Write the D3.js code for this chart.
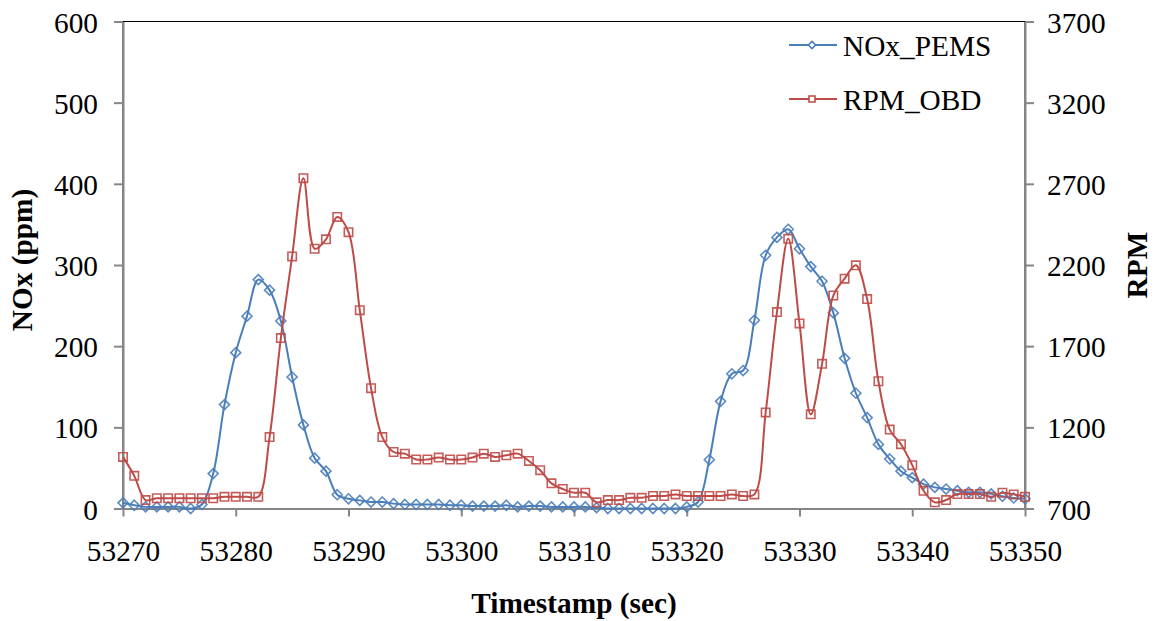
<!DOCTYPE html>
<html>
<head>
<meta charset="utf-8">
<script src="https://cdn.jsdelivr.net/npm/d3@7"></script>
<style>
  html, body { margin: 0; padding: 0; background: #ffffff; }
  svg { display: block; }
  svg text { font-family: "Liberation Serif", "Times New Roman", serif; }
</style>
</head>
<body>
<svg id="chart" width="1156" height="621"></svg>
<script>
// Timestamps (sec), one sample per second
const timestamps = [
  53270, 53271, 53272, 53273, 53274, 53275, 53276, 53277, 53278, 53279,
  53280, 53281, 53282, 53283, 53284, 53285, 53286, 53287, 53288, 53289,
  53290, 53291, 53292, 53293, 53294, 53295, 53296, 53297, 53298, 53299,
  53300, 53301, 53302, 53303, 53304, 53305, 53306, 53307, 53308, 53309,
  53310, 53311, 53312, 53313, 53314, 53315, 53316, 53317, 53318, 53319,
  53320, 53321, 53322, 53323, 53324, 53325, 53326, 53327, 53328, 53329,
  53330, 53331, 53332, 53333, 53334, 53335, 53336, 53337, 53338, 53339,
  53340, 53341, 53342, 53343, 53344, 53345, 53346, 53347, 53348, 53349,
  53350
];

// NOx concentration measured by PEMS (ppm)
const noxPems = [
  7, 4, 2, 2, 2, 2, 0, 5, 43, 128,
  192, 237, 282, 269, 231, 162, 103, 62, 46, 17,
  12, 10, 8, 8, 6, 5, 5, 5, 5, 4,
  4, 3, 3, 3, 4, 2, 3, 3, 2, 2,
  2, 2, 1, 0, 0, 0, 0, 0, 0, 0,
  2, 8, 60, 132, 166, 170, 232, 312, 334, 344,
  320, 298, 280, 241, 185, 142, 112, 79, 61, 46,
  38, 30, 26, 24, 22, 20, 20, 18, 15, 13,
  12
];

// Engine speed reported over OBD (RPM)
const rpmObd = [
  1018, 901, 752, 763, 763, 763, 763, 763, 763, 772,
  772, 772, 772, 1140, 1750, 2253, 2735, 2300, 2358, 2496,
  2402, 1922, 1441, 1140, 1048, 1038, 1002, 1002, 1014, 1002,
  1002, 1014, 1038, 1018, 1028, 1038, 993, 936, 855, 820,
  797, 797, 738, 752, 752, 766, 766, 777, 777, 787,
  777, 777, 777, 777, 787, 777, 787, 1292, 1910, 2361,
  1840, 1280, 1591, 2012, 2116, 2198, 1990, 1484, 1186, 1096,
  967, 809, 738, 752, 789, 789, 789, 772, 797, 787,
  772
];

const xTicks = [53270, 53280, 53290, 53300, 53310, 53320, 53330, 53340, 53350];
const noxTicks = [0, 100, 200, 300, 400, 500, 600];
const rpmTicks = [700, 1200, 1700, 2200, 2700, 3200, 3700];

const seriesNames = ["NOx_PEMS", "RPM_OBD"];
const xTitle = "Timestamp (sec)";
const noxTitle = "NOx (ppm)";
const rpmTitle = "RPM";

// ---- layout ----
const plot = { left: 123, right: 1025, top: 21.5, bottom: 508.5 };
const blue = "#4a7ebb";
const red = "#be4b48";
const axisGrey = "#868686";
const fontSize = 29.33;
const serif = "'Liberation Serif', 'Times New Roman', serif";

const svg = d3.select("#chart");

const x = d3.scaleLinear().domain([53270, 53350]).range([plot.left, plot.right]);
const yNox = d3.scaleLinear().domain([0, 600]).range([plot.bottom, plot.top]);
const yRpm = d3.scaleLinear().domain([700, 3700]).range([plot.bottom, plot.top]);
const plain = d3.format("d");

// plot area outline
svg.append("rect")
  .attr("x", plot.left).attr("y", plot.top)
  .attr("width", plot.right - plot.left).attr("height", plot.bottom - plot.top)
  .attr("fill", "none").attr("stroke", "#000").attr("stroke-width", 1);

function styleAxis(g) {
  g.attr("font-family", serif).attr("font-size", fontSize);
  g.select(".domain").attr("stroke", axisGrey).attr("stroke-width", 2);
  g.selectAll(".tick line").attr("stroke", axisGrey).attr("stroke-width", 2);
  g.selectAll(".tick text")
    .attr("fill", "#000")
    .style("font-family", serif)
    .style("font-size", fontSize + "px");
}

// left axis (NOx)
const gLeft = svg.append("g")
  .attr("transform", `translate(${plot.left},0)`)
  .call(d3.axisLeft(yNox).tickValues(noxTicks).tickFormat(plain)
    .tickSizeInner(9).tickSizeOuter(0).tickPadding(16));
styleAxis(gLeft);
gLeft.selectAll(".tick text").attr("dy", "0.36em");

// right axis (RPM)
const gRight = svg.append("g")
  .attr("transform", `translate(${plot.right},0)`)
  .call(d3.axisRight(yRpm).tickValues(rpmTicks).tickFormat(plain)
    .tickSizeInner(9).tickSizeOuter(0).tickPadding(13));
styleAxis(gRight);
gRight.selectAll(".tick text").attr("dy", "0.36em");

// bottom axis (time)
const gBottom = svg.append("g")
  .attr("transform", `translate(0,${plot.bottom})`)
  .call(d3.axisBottom(x).tickValues(xTicks).tickFormat(plain)
    .tickSizeInner(8).tickSizeOuter(0).tickPadding(24));
styleAxis(gBottom);

// axis titles
function title(sel) {
  return sel.attr("text-anchor", "middle")
    .style("font-family", serif)
    .style("font-size", fontSize + "px").style("font-weight", "bold");
}
svg.append("text")
  .attr("x", (plot.left + plot.right) / 2).attr("y", 613)
  .call(title).text(xTitle);

svg.append("text")
  .attr("transform", "translate(31.5,260) rotate(-90)")
  .call(title).text(noxTitle);

svg.append("text")
  .attr("transform", "translate(1147,265) rotate(-90)")
  .call(title).text(rpmTitle);

// ---- series ----
const noxData = timestamps.map((t, i) => ({ t, v: noxPems[i] }));
const rpmData = timestamps.map((t, i) => ({ t, v: rpmObd[i] }));

const diamond = (s) => `M0,${-s}L${s},0L0,${s}L${-s},0Z`;
const square = (s) => `M${-s},${-s}H${s}V${s}H${-s}Z`;

function drawSeries(data, yScale, color, markerPath) {
  const line = d3.line()
    .x(d => x(d.t)).y(d => yScale(d.v))
    .curve(d3.curveCatmullRom.alpha(0.5));
  const g = svg.append("g");
  g.append("path")
    .datum(data)
    .attr("d", line)
    .attr("fill", "none").attr("stroke", color).attr("stroke-width", 2)
    .attr("stroke-linejoin", "round");
  g.selectAll("path.marker")
    .data(data)
    .join("path")
    .attr("class", "marker")
    .attr("transform", d => `translate(${x(d.t)},${yScale(d.v)})`)
    .attr("d", markerPath)
    .attr("fill", "none").attr("stroke", color).attr("stroke-width", 1.6)
    .attr("stroke-opacity", 0.9);
}

drawSeries(noxData, yNox, blue, diamond(5));
drawSeries(rpmData, yRpm, red, square(4.2));

// ---- legend ----
const legendItems = [
  { name: seriesNames[0], color: blue, marker: diamond(3.6), y: 45 },
  { name: seriesNames[1], color: red, marker: square(3), y: 99 }
];
const lg = svg.append("g");
legendItems.forEach(item => {
  lg.append("line")
    .attr("x1", 789).attr("x2", 837).attr("y1", item.y).attr("y2", item.y)
    .attr("stroke", item.color).attr("stroke-width", 2);
  lg.append("path")
    .attr("transform", `translate(812,${item.y})`)
    .attr("d", item.marker)
    .attr("fill", "#fff").attr("stroke", item.color).attr("stroke-width", 1.6);
  lg.append("text")
    .attr("x", 843).attr("y", item.y + 11)
    .style("font-family", serif)
    .style("font-size", fontSize + "px")
    .text(item.name);
});
</script>
</body>
</html>
